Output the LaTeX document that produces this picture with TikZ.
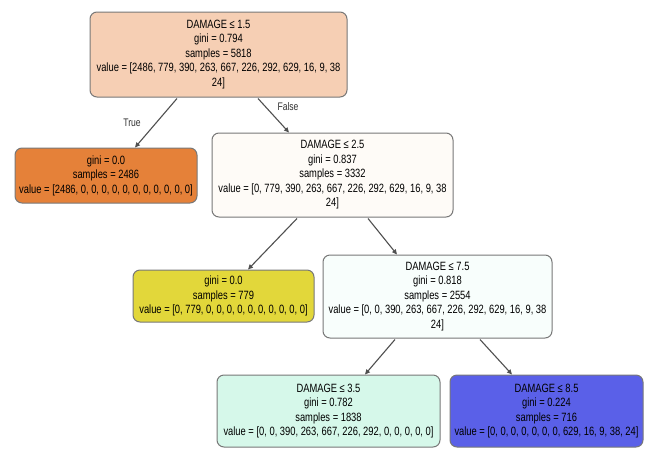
\documentclass[tikz,border=0pt]{standalone}
\usepackage{fontspec}
\newfontfamily\treefont[FakeStretch=0.78]{Liberation Sans}
\definecolor{rootpeach}{RGB}{246, 207, 180}
\definecolor{leaforange}{RGB}{229, 129, 57}
\definecolor{splitwhite}{RGB}{254, 251, 247}
\definecolor{leafyellow}{RGB}{226, 215, 58}
\definecolor{splitpale}{RGB}{248, 254, 252}
\definecolor{splitmint}{RGB}{214, 248, 234}
\definecolor{splitblue}{RGB}{90, 96, 232}
\definecolor{boxgray}{RGB}{120, 120, 120}
\definecolor{edgegray}{RGB}{80, 80, 80}
\usepackage{tikz}
\usetikzlibrary{arrows.meta, positioning}

\begin{document}
\begin{tikzpicture}[x=1pt, y=-1pt,
		treenode/.style={draw=boxgray, line width=1pt, rounded corners=7pt, align=center,
			inner sep=0pt, font=\treefont\fontsize{12}{14.5}\selectfont},
		edge/.style={draw=edgegray, line width=1.1pt, -{Triangle[length=5pt, width=4.5pt]}},
		edgelabel/.style={font=\treefont\fontsize{11}{13}\selectfont, text=black!80}]
	\useasboundingbox (0,0) rectangle (646,448);
	\clip (0,0) rectangle (646,448);
	\fill[white] (0,0) rectangle (646,448);
	% split and leaf nodes
	\node[treenode, fill=rootpeach, minimum width=257pt, minimum height=85pt] (root) at (218.5,54.5)
		{DAMAGE ≤ 1.5\\gini = 0.794\\samples = 5818\\value = [2486, 779, 390, 263, 667, 226, 292, 629, 16, 9, 38\\24]};
	\node[treenode, fill=leaforange, minimum width=182pt, minimum height=55pt] (leafA) at (106,175.5)
		{gini = 0.0\\samples = 2486\\value = [2486, 0, 0, 0, 0, 0, 0, 0, 0, 0, 0, 0]};
	\node[treenode, fill=splitwhite, minimum width=241pt, minimum height=84pt] (splitA) at (332.5,175)
		{DAMAGE ≤ 2.5\\gini = 0.837\\samples = 3332\\value = [0, 779, 390, 263, 667, 226, 292, 629, 16, 9, 38\\24]};
	\node[treenode, fill=leafyellow, minimum width=181pt, minimum height=52pt] (leafB) at (223.5,296)
		{gini = 0.0\\samples = 779\\value = [0, 779, 0, 0, 0, 0, 0, 0, 0, 0, 0, 0]};
	\node[treenode, fill=splitpale, minimum width=229pt, minimum height=83pt] (splitB) at (437.5,296.5)
		{DAMAGE ≤ 7.5\\gini = 0.818\\samples = 2554\\value = [0, 0, 390, 263, 667, 226, 292, 629, 16, 9, 38\\24]};
	\node[treenode, fill=splitmint, minimum width=223pt, minimum height=72pt] (splitC) at (328.5,411)
		{DAMAGE ≤ 3.5\\gini = 0.782\\samples = 1838\\value = [0, 0, 390, 263, 667, 226, 292, 0, 0, 0, 0, 0]};
	\node[treenode, fill=splitblue, minimum width=193pt, minimum height=72pt] (splitD) at (546.5,411)
		{DAMAGE ≤ 8.5\\gini = 0.224\\samples = 716\\value = [0, 0, 0, 0, 0, 0, 0, 629, 16, 9, 38, 24]};
	% connectors
	\foreach \from/\to/\sa/\sb in {root/leafA/-41.5/29, root/splitA/39.5/-43.5,
		splitA/leafB/-35.5/24.5, splitA/splitB/35.5/-40.5,
		splitB/splitC/-42.5/36.5, splitB/splitD/42.5/-34.5}{
		\draw[edge] ([xshift=\sa pt, yshift=-1pt]\from.south) -- ([xshift=\sb pt]\to.north);
	}
	\node[edgelabel] (lblTrue) at (132,123) {True};
	\node[edgelabel] (lblFalse) at (288,107) {False};
\end{tikzpicture}
\end{document}
